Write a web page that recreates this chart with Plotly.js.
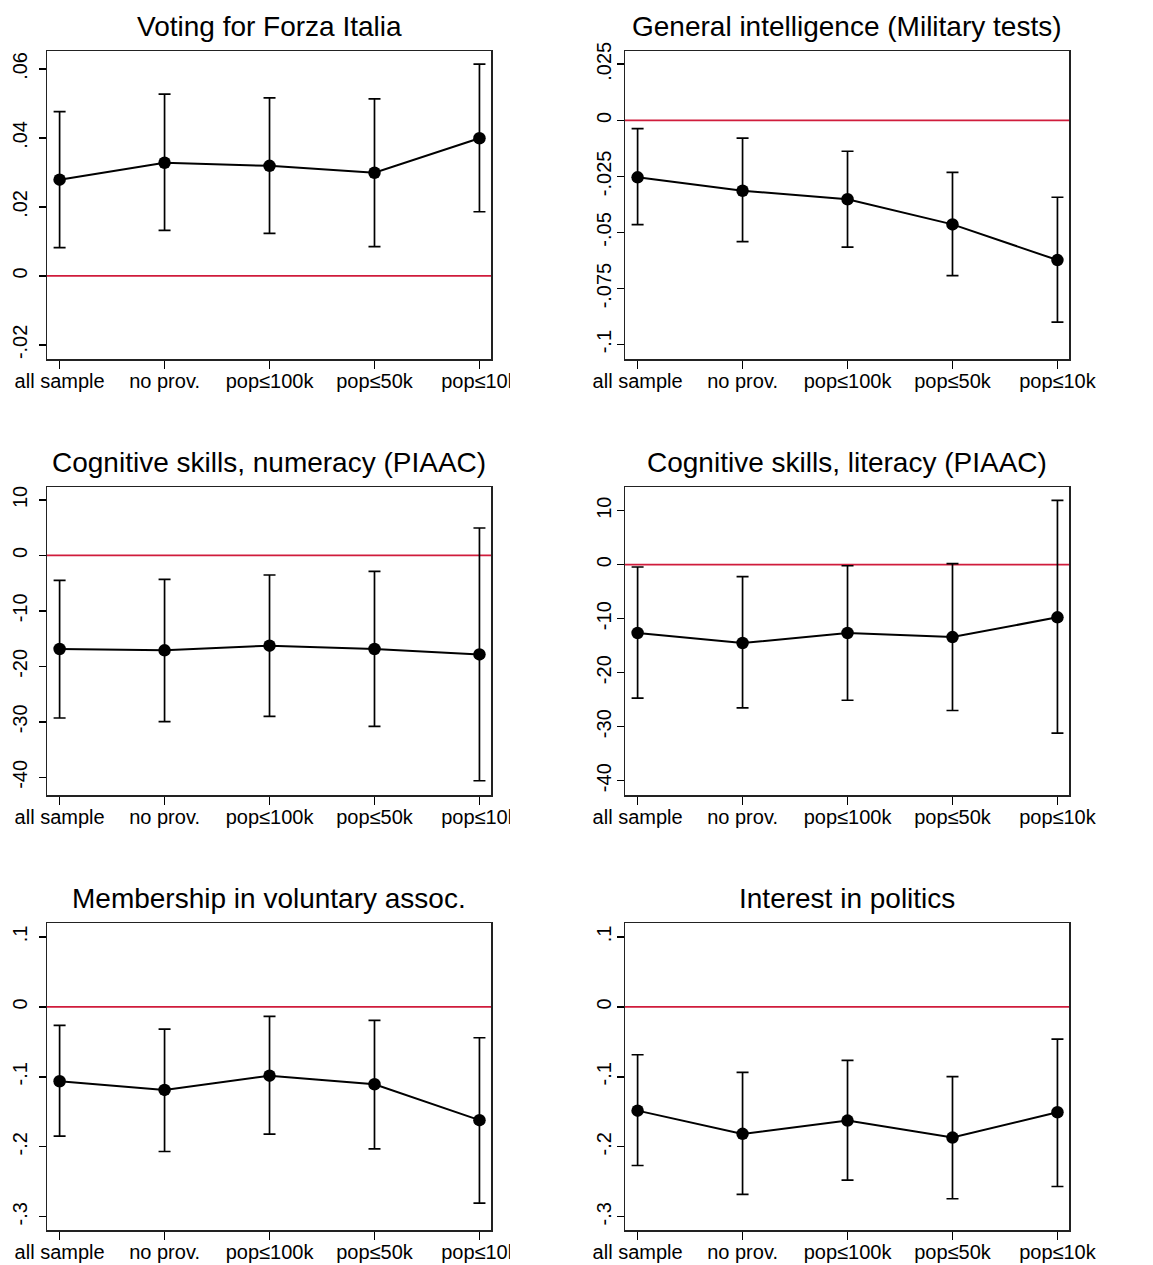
<!DOCTYPE html>
<html>
<head>
<meta charset="utf-8">
<script src="https://cdn.plot.ly/plotly-3.0.1.min.js"></script>
<style>html,body{margin:0;padding:0;background:#fff;}#chart{width:1153px;height:1265px;}</style>
</head>
<body>
<div id="chart"></div>
<script>
// Categories (x positions 1..5)
const categories = ["all sample", "no prov.", "pop≤100k", "pop≤50k", "pop≤10k"];
const catPos = [1, 2, 3, 4, 5];

// Panel titles
const titles = [
  "Voting for Forza Italia",
  "General intelligence (Military tests)",
  "Cognitive skills, numeracy (PIAAC)",
  "Cognitive skills, literacy (PIAAC)",
  "Membership in voluntary assoc.",
  "Interest in politics"
];

// Point estimates
const estForza   = [0.0279, 0.0328, 0.0319, 0.0299, 0.0399];
const estIntell  = [-0.0254, -0.0314, -0.0352, -0.0464, -0.0623];
const estNumer   = [-16.87, -17.10, -16.27, -16.87, -17.84];
const estLiter   = [-12.65, -14.50, -12.65, -13.40, -9.75];
const estMember  = [-0.1064, -0.1188, -0.0984, -0.1107, -0.1620];
const estPolit   = [-0.1484, -0.1816, -0.1626, -0.1869, -0.1507];

// Upper bounds of confidence intervals
const hiForza  = [0.0476, 0.0527, 0.0516, 0.0513, 0.0614];
const hiIntell = [-0.0037, -0.0079, -0.0138, -0.0232, -0.0343];
const hiNumer  = [-4.50, -4.32, -3.53, -2.88, 4.93];
const hiLiter  = [-0.43, -2.22, -0.19, 0.19, 11.90];
const hiMember = [-0.0265, -0.0318, -0.0137, -0.0194, -0.0442];
const hiPolit  = [-0.0685, -0.0936, -0.0765, -0.0999, -0.0461];

// Lower bounds of confidence intervals
const loForza  = [0.0082, 0.0132, 0.0123, 0.0085, 0.0186];
const loIntell = [-0.0465, -0.0541, -0.0565, -0.0692, -0.0900];
const loNumer  = [-29.30, -29.96, -29.00, -30.80, -40.60];
const loLiter  = [-24.70, -26.50, -25.10, -27.00, -31.20];
const loMember = [-0.1849, -0.2068, -0.1820, -0.2030, -0.2805];
const loPolit  = [-0.2268, -0.2682, -0.2477, -0.2743, -0.2568];

// Y tick values and labels
const tvForza  = [-0.02, 0, 0.02, 0.04, 0.06];
const ttForza  = ["-.02", "0", ".02", ".04", ".06"];
const tvIntell = [-0.1, -0.075, -0.05, -0.025, 0, 0.025];
const ttIntell = ["-.1", "-.075", "-.05", "-.025", "0", ".025"];
const tvPiaac  = [-40, -30, -20, -10, 0, 10];
const ttPiaac  = ["-40", "-30", "-20", "-10", "0", "10"];
const tvSocial = [-0.3, -0.2, -0.1, 0, 0.1];
const ttSocial = ["-.3", "-.2", "-.1", "0", ".1"];

const panels = [
  {est: estForza,  hi: hiForza,  lo: loForza,  tv: tvForza,  tt: ttForza,  yr: [-0.0241, 0.0652]},
  {est: estIntell, hi: hiIntell, lo: loIntell, tv: tvIntell, tt: ttIntell, yr: [-0.1064, 0.0309]},
  {est: estNumer,  hi: hiNumer,  lo: loNumer,  tv: tvPiaac,  tt: ttPiaac,  yr: [-43.17, 12.32]},
  {est: estLiter,  hi: hiLiter,  lo: loLiter,  tv: tvPiaac,  tt: ttPiaac,  yr: [-42.65, 14.39]},
  {est: estMember, hi: hiMember, lo: loMember, tv: tvSocial, tt: ttSocial, yr: [-0.319, 0.1198]},
  {est: estPolit,  hi: hiPolit,  lo: loPolit,  tv: tvSocial, tt: ttSocial, yr: [-0.319, 0.1198]}
];

const W = 1153, H = 1265;
const colDom = [[47 / W, 491 / W], [625 / W, 1069 / W]];
const colStandoff = [4, -2];
const rowPx = [[51, 359], [487, 795], [923, 1230]];
const rowDom = rowPx.map(r => [1 - r[1] / H, 1 - r[0] / H]);

const FONT = "Liberation Sans, Arial, Helvetica, sans-serif";
const traces = [];
const layout = {
  width: W, height: H,
  margin: {l: 0, r: 0, t: 0, b: 0},
  paper_bgcolor: "#ffffff",
  plot_bgcolor: "#ffffff",
  showlegend: false,
  font: {family: FONT, color: "#000", size: 20},
  annotations: [],
  shapes: []
};

panels.forEach((p, i) => {
  const col = i % 2, row = Math.floor(i / 2);
  const n = i + 1;
  const xa = n === 1 ? "x" : "x" + n;
  const ya = n === 1 ? "y" : "y" + n;
  const xk = n === 1 ? "xaxis" : "xaxis" + n;
  const yk = n === 1 ? "yaxis" : "yaxis" + n;

  traces.push({
    type: "scatter", mode: "lines+markers",
    x: catPos, y: p.est, xaxis: xa, yaxis: ya,
    line: {color: "#000", width: 2},
    marker: {color: "#000", size: 12.5},
    error_y: {
      type: "data", symmetric: false,
      array: p.hi.map((h, k) => h - p.est[k]),
      arrayminus: p.est.map((e, k) => e - p.lo[k]),
      color: "#000", thickness: 1.7, width: 6
    },
    hoverinfo: "skip"
  });

  layout[xk] = {
    domain: colDom[col], anchor: ya,
    range: [0.88, 5.11], fixedrange: true,
    tickmode: "array", tickvals: catPos, ticktext: categories,
    ticks: "outside", ticklen: 8, tickwidth: 1.5, tickcolor: "#000",
    ticklabelstandoff: -5,
    showline: true, linecolor: "#222", linewidth: 1.5, mirror: true,
    showgrid: false, zeroline: false,
    tickfont: {family: FONT, size: 20, color: "#000"}
  };
  layout[yk] = {
    domain: rowDom[row], anchor: xa,
    range: p.yr, fixedrange: true,
    tickmode: "array", tickvals: p.tv, ticktext: p.tt, tickangle: -90,
    ticks: "outside", ticklen: 7, tickwidth: 1.5, tickcolor: "#000",
    ticklabelstandoff: colStandoff[col],
    showline: true, linecolor: "#222", linewidth: 1.5, mirror: true,
    showgrid: false, zeroline: false,
    tickfont: {family: FONT, size: 20, color: "#000"}
  };

  // reference line at zero
  layout.shapes.push({
    type: "line", xref: xa + " domain", yref: ya,
    x0: 0, x1: 1, y0: 0, y1: 0,
    line: {color: "#d01c3c", width: 1.8}, layer: "below"
  });

  // panel title
  layout.annotations.push({
    text: titles[i], showarrow: false,
    xref: "paper", yref: "paper",
    x: (colDom[col][0] + colDom[col][1]) / 2,
    y: rowDom[row][1] + 7 / H,
    xanchor: "center", yanchor: "bottom",
    font: {family: FONT, size: 28, color: "#000"}
  });
});

// clip the right end of the last tick label of left-column panels (as in the original image)
const clipRows = [[363, 398], [799, 834], [1235, 1265]];
clipRows.forEach(r => {
  layout.shapes.push({
    type: "rect", xref: "paper", yref: "paper",
    x0: 510 / W, x1: 545 / W, y0: 1 - r[1] / H, y1: 1 - r[0] / H,
    fillcolor: "#ffffff", line: {width: 0}, layer: "above"
  });
});

Plotly.newPlot("chart", traces, layout, {staticPlot: true, displayModeBar: false});
</script>
</body>
</html>
